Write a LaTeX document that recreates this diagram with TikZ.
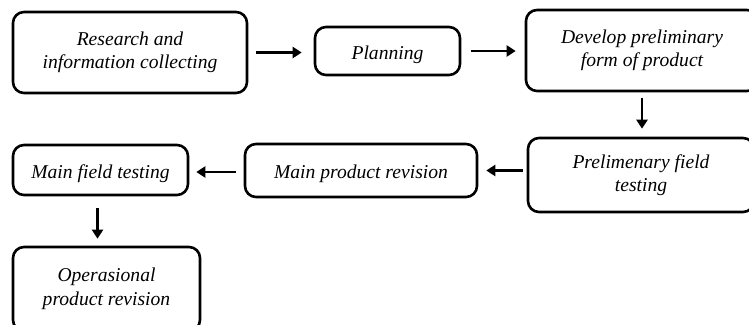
\documentclass[tikz,border=0pt]{standalone}
\usepackage{fontspec}
\setmainfont{Liberation Serif}
\usetikzlibrary{arrows.meta,calc}
\begin{document}
\begin{tikzpicture}[x=1pt,y=-1pt,
  box/.style={draw, line width=2.6pt, rounded corners=11pt, align=center, inner sep=0pt,
    font=\fontsize{19.6}{23.5}\selectfont\itshape,
    execute at begin node={\rule{0pt}{20.5pt}}},
  arr/.style={line width=2.6pt, -{Triangle[length=9pt,width=11pt]}}]
\useasboundingbox (0,0) rectangle (749,324);
\clip (0,0) rectangle (749,324);
\node[box, minimum width=234pt, minimum height=81pt] (b1) at (130,52.5) {Research and\\information collecting};
\node[box, minimum width=145pt, minimum height=48pt] (b2) at (387.5,51) {Planning};
\node[box, minimum width=232pt, minimum height=81pt] (b3) at (642,50.5) {Develop preliminary\\form of product};
\node[box, minimum width=226pt, minimum height=74pt] (b4) at (641,175) {Prelimenary field\\testing};
\node[box, minimum width=232pt, minimum height=53pt] (b5) at (361,170.5) {Main product revision};
\node[box, minimum width=175pt, minimum height=50pt] (b6) at (100.5,170) {Main field testing};
\node[box, minimum width=187pt, minimum height=84pt] (b7) at (106.5,289) {Operasional\\product revision};
\draw[arr, shorten <=8pt, shorten >=12pt] (b1.east) -- (b1.east -| b2.west);
\draw[arr, shorten <=10pt, shorten >=9pt] (b2.east) -- (b2.east -| b3.west);
\draw[arr, shorten <=6pt, shorten >=8pt] (b3.south) -- (b3.south |- b4.north);
\draw[arr, shorten <=4pt, shorten >=8pt] (b4.west |- b5.east) -- (b5.east);
\draw[arr, shorten <=8pt, shorten >=7pt] ($(b5.west)+(0,1.5)$) -- ($(b5.west -| b6.east)+(0,1.5)$);
\draw[arr, shorten <=12pt, shorten >=7pt] ($(b6.south)+(-3,0)$) -- ($(b6.south |- b7.north)+(-3,0)$);
\end{tikzpicture}
\end{document}
